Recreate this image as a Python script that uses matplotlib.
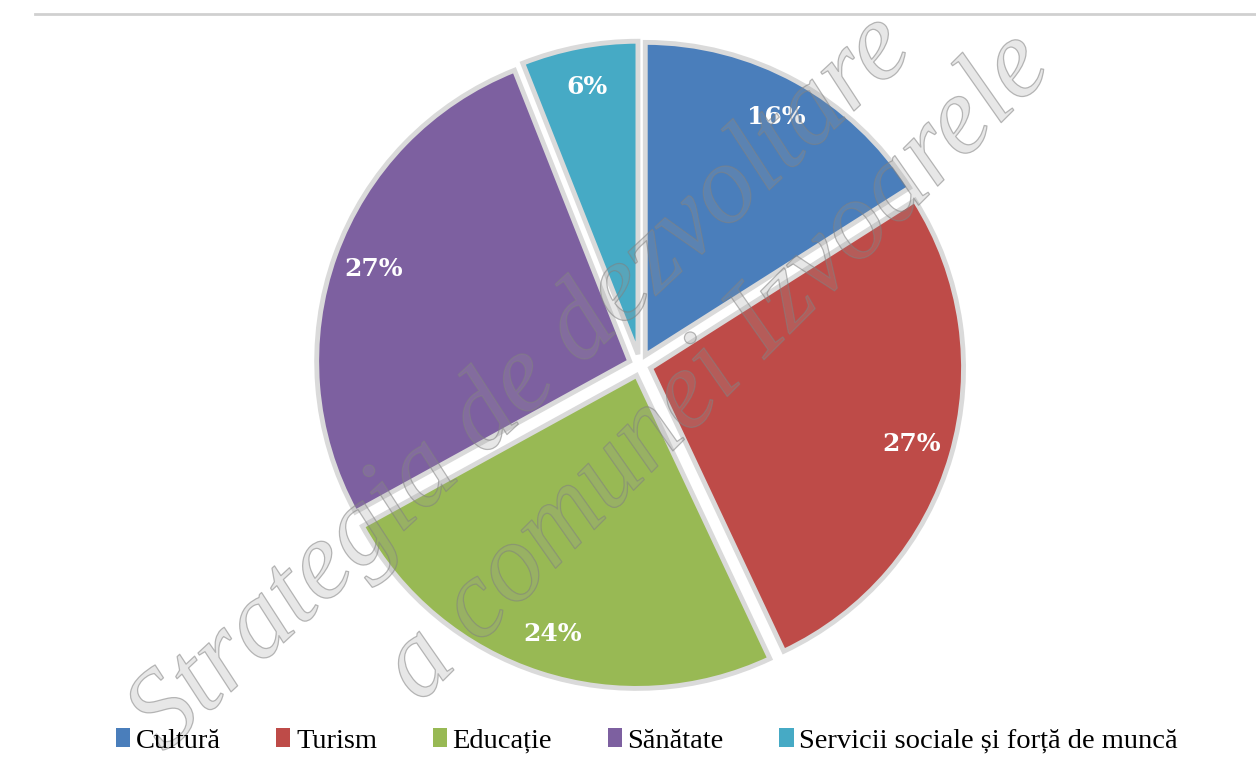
import matplotlib
matplotlib.use("Agg")
import matplotlib.pyplot as plt
import matplotlib.patheffects as pe
from matplotlib.patches import Rectangle

categories = ["Cultură", "Turism", "Educație", "Sănătate", "Servicii sociale și forță de muncă"]
values = [16, 27, 24, 27, 6]
colors = ["#4a7ebb", "#be4b48", "#98b954", "#7d60a0", "#46aac5"]

W, H = 1256, 777
fig = plt.figure(figsize=(W / 100, H / 100), dpi=100)
fig.patch.set_facecolor("white")

ax = fig.add_axes([0, 0, 1, 1])
R = 313.0
cx, cy = 640.0, 365.0
explode = [0.035] * len(values)
wedges, texts, autotexts = ax.pie(
    values, colors=colors, startangle=90, counterclock=False,
    explode=explode, radius=1.0,
    autopct=lambda p: f"{p:.0f}%", pctdistance=0.87,
    wedgeprops=dict(edgecolor="#dadada", linewidth=3.5),
    textprops=dict(color="white", fontsize=18, fontweight="bold", family="DejaVu Serif"),
)
ax.set_xlim(-cx / R, (W - cx) / R)
ax.set_ylim(-(H - cy) / R, cy / R)
ax.set_aspect("auto")
ax.axis("off")

# frame line
fig.add_artist(plt.Line2D([0.028, 1.0], [1 - 14 / H, 1 - 14 / H], color="#d0d0d0", lw=2,
                          transform=fig.transFigure))

# legend
handles = [Rectangle((0, 0), 1, 1, facecolor=c) for c in colors]
leg = fig.legend(handles, categories, loc="center", bbox_to_anchor=(0.515, 1 - 741 / H),
                 ncol=5, frameon=False, handlelength=0.5, handleheight=0.65,
                 handletextpad=0.2, columnspacing=1.95,
                 prop=dict(family="Liberation Serif", size=20.5))

# watermark
wm_effects = [pe.withStroke(linewidth=0.9, foreground=(0.5, 0.5, 0.5, 0.55))]
fig.text(522 / W, 1 - 384 / H, "Strategia de dezvoltare", rotation=43, fontsize=80, style="italic",
         family="Liberation Serif", color=(0.6, 0.6, 0.6, 0.12), ha="center", va="center",
         rotation_mode="anchor", path_effects=wm_effects)
fig.text(718 / W, 1 - 368 / H, "a comunei Izvoarele", rotation=45, fontsize=80, style="italic",
         family="Liberation Serif", color=(0.6, 0.6, 0.6, 0.12), ha="center", va="center",
         rotation_mode="anchor", path_effects=wm_effects)

fig.savefig("out.png", dpi=100, facecolor="white")
